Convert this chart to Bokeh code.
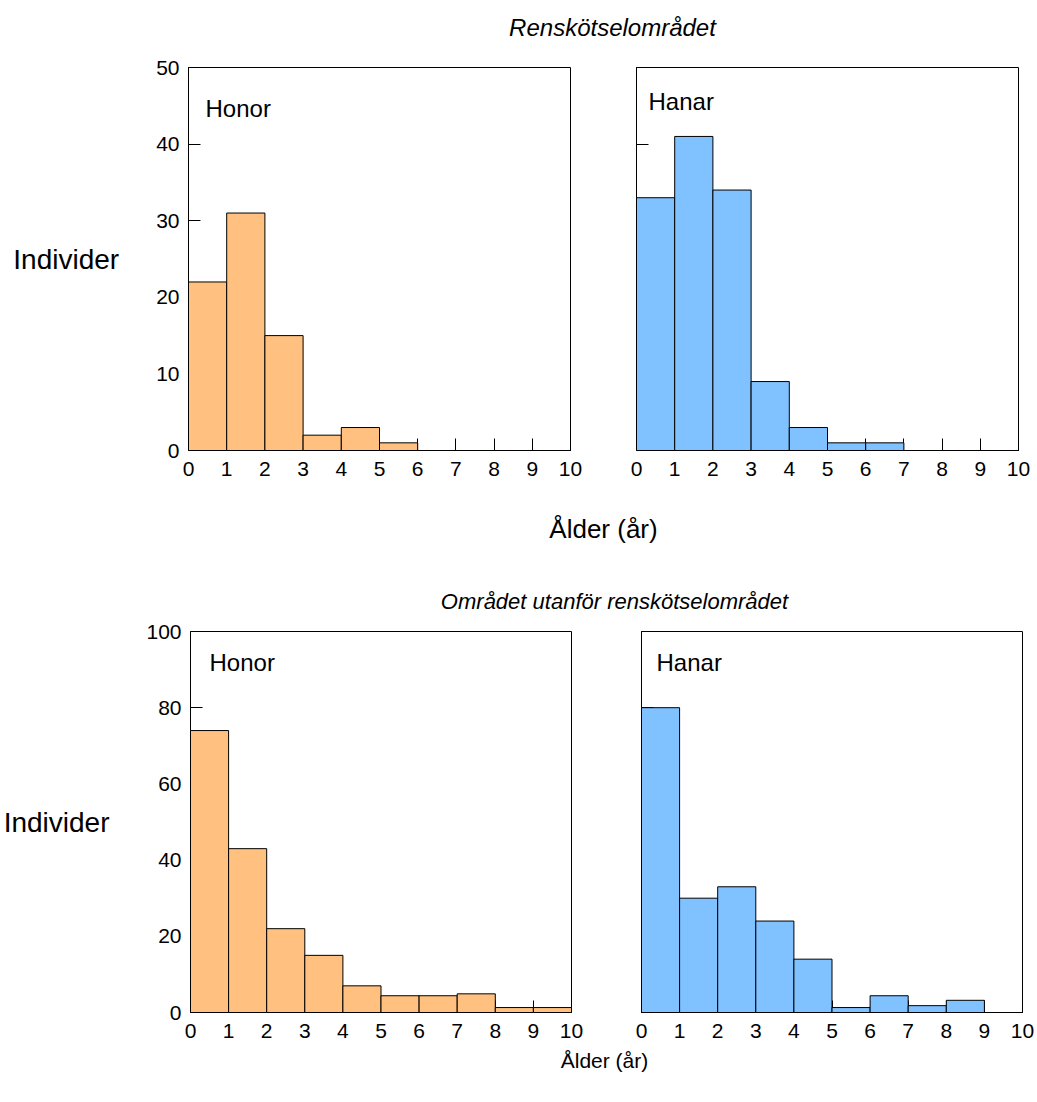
from bokeh.plotting import figure
from bokeh.layouts import column, row
from bokeh.models import Range1d, Label, FixedTicker
from bokeh.embed import file_html
from bokeh.resources import INLINE

FONT = "Liberation Sans"

# ---- data ----
bin_edges = [0, 1, 2, 3, 4, 5, 6, 7, 8, 9, 10]
x_ticks = [0, 1, 2, 3, 4, 5, 6, 7, 8, 9, 10]
top_y_ticks = [0, 10, 20, 30, 40, 50]
bottom_y_ticks = [0, 20, 40, 60, 80, 100]

ren_honor = [22, 31, 15, 2, 3, 1, 0, 0, 0, 0]
ren_hanar = [33, 41, 34, 9, 3, 1, 1, 0, 0, 0]
ut_honor = [74, 43, 22, 15, 7, 4.4, 4.4, 4.9, 1.3, 1.3]
ut_hanar = [80, 30, 33, 24, 14, 1.3, 4.4, 1.8, 3.2, 0]

title_top = "Renskötselområdet"
title_bottom = "Området utanför renskötselområdet"
xlabel = "Ålder (år)"
ylabel = "Individer"

ORANGE = "#FFC080"
BLUE = "#80C1FF"


def panel(values, ymax, yticks, color, label, width, height, bl, br, bt, bb,
          show_ylabels, lab_dx, lab_dy):
    p = figure(width=width, height=height, x_range=Range1d(0, 10),
               y_range=Range1d(0, ymax), output_backend="svg",
               toolbar_location=None, min_border_left=bl, min_border_right=br,
               min_border_top=bt, min_border_bottom=bb)
    p.grid.visible = False
    p.outline_line_color = "black"
    p.outline_line_width = 1
    p.background_fill_color = "white"
    p.border_fill_color = "white"
    r = p.quad(left=bin_edges[:-1], right=bin_edges[1:], bottom=0, top=values,
               fill_color=color, line_color="black", line_width=1)
    r.level = "overlay"

    for ax in (p.xaxis, p.yaxis):
        ax.major_tick_in = 12
        ax.major_tick_out = 0
        ax.minor_tick_line_color = None
        ax.axis_line_color = "black"
        ax.major_tick_line_color = "black"
        ax.major_label_text_font = FONT
        ax.major_label_text_font_size = "21px"
        ax.major_label_text_color = "black"
    p.xaxis.major_label_standoff = 11
    p.yaxis.major_label_standoff = 9
    p.xaxis.ticker = FixedTicker(ticks=x_ticks)
    p.yaxis.ticker = FixedTicker(ticks=yticks)
    if show_ylabels:
        p.yaxis.axis_label = ylabel
        p.yaxis.axis_label_orientation = "horizontal"
        p.yaxis.axis_label_text_font = FONT
        p.yaxis.axis_label_text_font_size = "28px"
        p.yaxis.axis_label_text_font_style = "normal"
        p.yaxis.axis_label_text_color = "black"
        p.yaxis.axis_label_standoff = 34
    else:
        p.yaxis.major_label_overrides = {t: "" for t in yticks}

    p.add_layout(Label(x=0, y=ymax, x_offset=lab_dx, y_offset=-lab_dy,
                       text=label, text_font=FONT, text_font_size="24px",
                       text_baseline="alphabetic", text_align="left",
                       text_color="black"))
    return p


def strip(width, height, items):
    s = figure(width=width, height=height, x_range=Range1d(0, width),
               y_range=Range1d(height, 0), output_backend="svg",
               toolbar_location=None, min_border=0,
               x_axis_location=None, y_axis_location=None)
    s.grid.visible = False
    s.outline_line_color = None
    for (x, y, txt, size, style) in items:
        s.add_layout(Label(x=x, y=y, text=txt, text_font=FONT,
                           text_font_size=size, text_font_style=style,
                           text_align="center", text_baseline="middle",
                           text_color="black"))
    return s


W = 1036

s1 = strip(W, 52, [(612, 27, title_top, "24px", "italic")])

tl = panel(ren_honor, 50, top_y_ticks, ORANGE, "Honor", 600, 438, 188, 30, 15, 40,
           True, 17, 41)
tr = panel(ren_hanar, 50, top_y_ticks, BLUE, "Hanar", 436, 438, 36, 18, 15, 40,
           False, 12, 34)

s2 = strip(W, 126, [(603, 38, xlabel, "26px", "normal"),
                    (614, 111, title_bottom, "22px", "italic")])

bl = panel(ut_honor, 100, bottom_y_ticks, ORANGE, "Honor", 601, 432, 189, 30, 15, 36,
           True, 19, 31)
br = panel(ut_hanar, 100, bottom_y_ticks, BLUE, "Hanar", 435, 432, 40, 14, 15, 36,
           False, 15, 31)

s3 = strip(W, 52, [(604, 12, xlabel, "21px", "normal")])

layout = column(s1, row(tl, tr), s2, row(bl, br), s3)

open("out.html", "w").write(file_html(layout, INLINE))
